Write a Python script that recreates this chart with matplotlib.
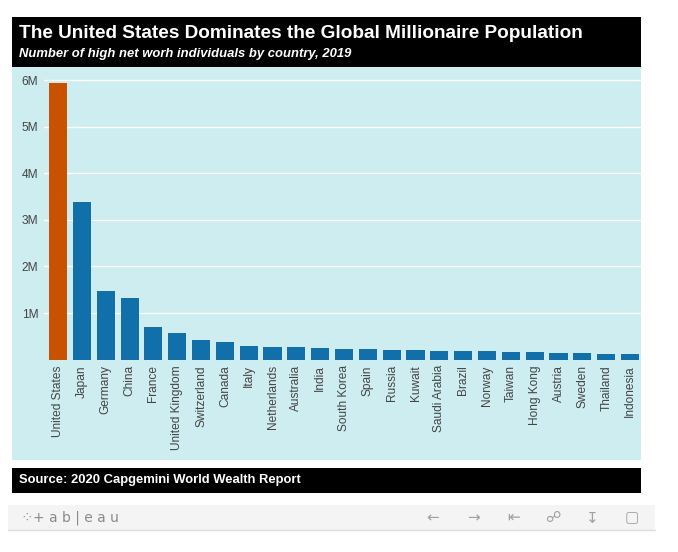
"""Millionaire population by country, redrawn after a Tableau viz."""

import matplotlib
matplotlib.use("Agg")
import matplotlib.pyplot as plt
import numpy as np
from matplotlib.patches import Rectangle

COUNTRIES = [
    "United States", "Japan", "Germany", "China", "France", "United Kingdom",
    "Switzerland", "Canada", "Italy", "Netherlands", "Australia", "India",
    "South Korea", "Spain", "Russia", "Kuwait", "Saudi Arabia", "Brazil",
    "Norway", "Taiwan", "Hong Kong", "Austria", "Sweden", "Thailand",
    "Indonesia",
]
HNWI_MILLIONS = [
    5.93, 3.38, 1.47, 1.32, 0.69, 0.58, 0.41, 0.37, 0.29, 0.27, 0.27, 0.24,
    0.23, 0.23, 0.21, 0.21, 0.19, 0.19, 0.19, 0.17, 0.17, 0.145, 0.145,
    0.12, 0.12,
]
Y_TICKS = [1, 2, 3, 4, 5, 6]
Y_TICK_LABELS = ["1M", "2M", "3M", "4M", "5M", "6M"]

TITLE = "The United States Dominates the Global Millionaire Population"
SUBTITLE = "Number of high net worh individuals by country, 2019"
SOURCE = "Source: 2020 Capgemini World Wealth Report"

W, H = 678, 552
BLUE = "#1170aa"
ORANGE = "#c85200"
PANEL = "#cdedf0"
FONT = "Liberation Sans"


def fx(x):
    return x / W


def fy(y):
    return 1 - y / H


def add_box(fig, x0, y0, x1, y1, color):
    fig.patches.append(Rectangle((fx(x0), fy(y1)), (x1 - x0) / W,
                                 (y1 - y0) / H, transform=fig.transFigure,
                                 facecolor=color, edgecolor="none",
                                 zorder=-5))


fig = plt.figure(figsize=(W / 100, H / 100), dpi=100)
fig.patch.set_facecolor("white")

# header, panel, footer
add_box(fig, 12, 17, 641, 67, "black")
add_box(fig, 12, 67, 641, 460, PANEL)
add_box(fig, 12, 468, 641, 493, "black")
add_box(fig, 8, 505, 655, 530, "#f4f4f4")
fig.add_artist(plt.Line2D([fx(8), fx(655)], [fy(530), fy(530)],
                          transform=fig.transFigure, color="#dcdcdc", lw=1))

fig.text(fx(19), fy(34), TITLE, color="white", fontsize=13.7,
         fontweight="bold", family=FONT, va="center", ha="left")
fig.text(fx(19), fy(53.5), SUBTITLE, color="white", fontsize=9.4,
         fontweight="bold", style="italic", family=FONT, va="center")
fig.text(fx(19), fy(480.5), SOURCE, color="white", fontsize=9.4,
         fontweight="bold", family=FONT, va="center")

# chart
ax = fig.add_axes([fx(44), fy(359.6), (641 - 44) / W, (359.6 - 70) / H])
ax.set_facecolor("none")
x = np.arange(len(COUNTRIES))
colors = [ORANGE if c == "United States" else BLUE for c in COUNTRIES]
ax.bar(x, HNWI_MILLIONS, width=0.76, color=colors, zorder=3)
ax.set_xlim(-0.59, len(COUNTRIES) - 1 + 0.46)
ax.set_ylim(0, 6.215)
ax.set_yticks(Y_TICKS)
ax.set_yticklabels(Y_TICK_LABELS)
ax.set_xticks(x)
ax.set_xticklabels(COUNTRIES, rotation=90)
ax.grid(axis="y", color="white", lw=1, zorder=0)
for s in ax.spines.values():
    s.set_visible(False)
ax.tick_params(length=0, colors="#444444", labelsize=8.6, pad=4)
for lab in ax.get_xticklabels() + ax.get_yticklabels():
    lab.set_family(FONT)

# tableau toolbar
fig.text(fx(20), fy(517.5), "\u2058", color="#9a9a9a", fontsize=11,
         family="DejaVu Sans", va="center")
fig.text(fx(33), fy(517.5), "+ a b | e a u", color="#8a8a8a", fontsize=10,
         family="DejaVu Sans", va="center")
icons = [(433, "\u2190"), (474, "\u2192"), (514, "\u21e4"), (553, "\u260d"),
         (592, "\u21a7"), (632, "\u25a2")]
for xi, glyph in icons:
    fig.text(fx(xi), fy(517.5), glyph, color="#a0a0a0", fontsize=11,
             family="DejaVu Sans", ha="center", va="center")

fig.savefig("out.png", dpi=100)
